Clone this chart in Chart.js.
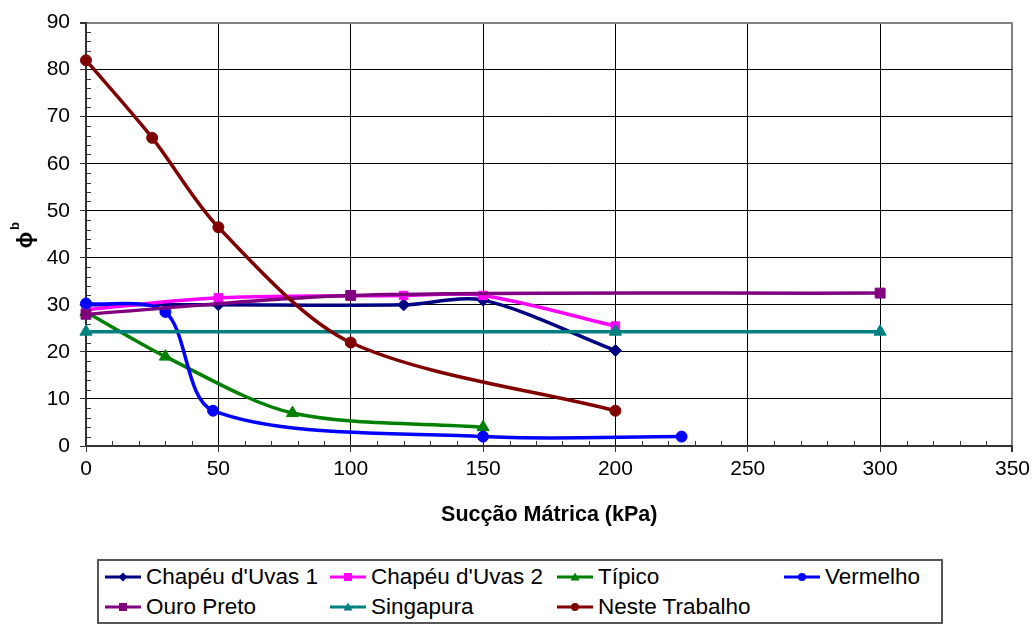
<!DOCTYPE html>
<html>
<head>
<meta charset="utf-8">
<script src="https://cdn.jsdelivr.net/npm/chart.js@4"></script>
<style>
  body { margin: 0; background: #fff; }
  .wrap { position: relative; width: 1035px; height: 628px; }
  #legend {
    position: absolute; left: 97px; top: 559px; width: 846px; height: 65px;
    box-sizing: border-box; border: 2px solid #555; background: #fff;
    font-family: "Liberation Sans", Arial, sans-serif; font-size: 22.5px; color: #000;
  }
  .item { position: absolute; display: flex; align-items: center; height: 26px; white-space: nowrap; }
  .item svg { margin-right: 5px; }
</style>
</head>
<body>
<div class="wrap">
  <canvas id="myChart" width="1035" height="628"></canvas>
  <div id="legend"></div>
</div>
<script>
// axis ranges
const xMin = 0, xMax = 350, xStep = 50;
const yMin = 0, yMax = 90, yStep = 10;

const seriesNames = ["Chapéu d'Uvas 1", "Chapéu d'Uvas 2", "Típico", "Vermelho", "Ouro Preto", "Singapura", "Neste Trabalho"];

// values
const chapeu1X = [0, 50, 120, 150, 200];
const chapeu1Y = [30, 30, 30, 31, 20.3];
const chapeu2X = [0, 50, 120, 150, 200];
const chapeu2Y = [29, 31.5, 32, 32, 25.5];
const tipicoX = [0, 30, 78, 150];
const tipicoY = [28.5, 19, 7, 4];
const vermelhoX = [0, 30, 48, 150, 225];
const vermelhoY = [30.3, 28.5, 7.5, 2, 2];
const ouroPretoX = [0, 100, 300];
const ouroPretoY = [28, 32, 32.5];
const singapuraX = [0, 200, 300];
const singapuraY = [24.3, 24.3, 24.3];
const nesteX = [0, 25, 50, 100, 200];
const nesteY = [82, 65.5, 46.5, 22, 7.5];

const allX = [chapeu1X, chapeu2X, tipicoX, vermelhoX, ouroPretoX, singapuraX, nesteX];
const allY = [chapeu1Y, chapeu2Y, tipicoY, vermelhoY, ouroPretoY, singapuraY, nesteY];

const colors = ["#000080", "#FF00FF", "#008000", "#0000FF", "#800080", "#008080", "#800000"];
const markers = ["rectRot", "rect", "triangle", "circle", "rect", "triangle", "circle"];
const markerSizes = [6, 6, 7, 5.5, 7, 7, 5.5];

const fontFamily = '"Liberation Sans", Arial, sans-serif';

function toPoints(xs, ys) {
  return xs.map((x, i) => ({ x: x, y: ys[i] }));
}

const datasets = seriesNames.map((name, i) => ({
  label: name,
  data: toPoints(allX[i], allY[i]),
  borderColor: colors[i],
  backgroundColor: colors[i],
  borderWidth: 3.5,
  pointStyle: markers[i],
  pointRadius: markerSizes[i],
  pointBorderWidth: 1,
  pointBackgroundColor: colors[i],
  pointBorderColor: colors[i],
  tension: 0.3,
  clip: false,
  order: seriesNames.length - i,
}));

// small ticks between the labelled ones
const minorTicks = {
  id: "minorTicks",
  beforeDatasetsDraw(chart) {
    const { ctx, chartArea, scales: { x, y } } = chart;
    ctx.save();
    ctx.strokeStyle = "#333";
    ctx.lineWidth = 1;
    ctx.beginPath();
    for (let v = xMin; v <= xMax; v += 10) {
      if (v % xStep === 0) continue;
      const px = Math.round(x.getPixelForValue(v)) + 0.5;
      ctx.moveTo(px, chartArea.bottom);
      ctx.lineTo(px, chartArea.bottom - 5);
    }
    for (let v = yMin; v <= yMax; v += 2) {
      if (v % yStep === 0) continue;
      const py = Math.round(y.getPixelForValue(v)) + 0.5;
      ctx.moveTo(chartArea.left, py);
      ctx.lineTo(chartArea.left + 5, py);
    }
    ctx.stroke();
    ctx.restore();
  },
};

// phi with superscript b as the y title
const yTitle = {
  id: "yTitle",
  afterDraw(chart) {
    const ctx = chart.ctx;
    ctx.save();
    ctx.translate(26, 240);
    ctx.rotate(-Math.PI / 2);
    ctx.fillStyle = "#000";
    ctx.textAlign = "center";
    ctx.textBaseline = "middle";
    ctx.font = "bold 22px " + fontFamily;
    ctx.fillText("ϕ", 0, 0);
    ctx.font = "bold 13px " + fontFamily;
    ctx.fillText("b", 14, -11);
    ctx.restore();
  },
};

const isLast = (c, max) => c.tick && c.tick.value === max;

const ctx = document.getElementById("myChart").getContext("2d");
const myChart = new Chart(ctx, {
  type: "line",
  data: { datasets: datasets },
  options: {
    responsive: false,
    animation: false,
    devicePixelRatio: 1,
    layout: { padding: { top: 15, right: 22, bottom: 88, left: 0 } },
    plugins: {
      legend: { display: false },
      tooltip: { enabled: false },
    },
    scales: {
      x: {
        type: "linear",
        min: xMin,
        max: xMax,
        ticks: { stepSize: xStep, color: "#000", padding: 5, font: { family: fontFamily, size: 21 } },
        grid: {
          color: (c) => (isLast(c, xMax) ? "#808080" : "#000"),
          lineWidth: (c) => (isLast(c, xMax) ? 2 : 1),
          tickLength: 6,
          tickColor: "#333",
        },
        border: { color: "#333", width: 2 },
        title: {
          display: true,
          text: "Sucção Mátrica (kPa)",
          color: "#000",
          font: { family: fontFamily, size: 21.5, weight: "bold" },
          padding: { top: 4, bottom: 12 },
        },
        afterFit: (s) => { s.height = 94; },
      },
      y: {
        type: "linear",
        min: yMin,
        max: yMax,
        ticks: { stepSize: yStep, color: "#000", padding: 10, font: { family: fontFamily, size: 21 } },
        grid: {
          color: (c) => (isLast(c, yMax) ? "#808080" : "#000"),
          lineWidth: (c) => (isLast(c, yMax) ? 2 : 1),
          tickLength: 6,
          tickColor: "#333",
        },
        border: { color: "#333", width: 2 },
        afterFit: (s) => { s.width = 86; },
      },
    },
  },
  plugins: [minorTicks, yTitle],
});

// legend: line with marker, 4 columns
function markerSvg(style, color) {
  let m = "";
  if (style === "rectRot") m = `<polygon points="18,2.5 22.5,7 18,11.5 13.5,7" fill="${color}"/>`;
  else if (style === "rect") m = `<rect x="14" y="3" width="8" height="8" fill="${color}"/>`;
  else if (style === "triangle") m = `<polygon points="18,2.5 22.5,10.5 13.5,10.5" fill="${color}"/>`;
  else m = `<circle cx="18" cy="7" r="4" fill="${color}"/>`;
  return `<svg width="36" height="14"><line x1="0" y1="7" x2="36" y2="7" stroke="${color}" stroke-width="3"/>${m}</svg>`;
}

const legendCols = [6, 231, 458, 685];
const legendRows = [3, 33];
const legendEl = document.getElementById("legend");
seriesNames.forEach((name, i) => {
  const div = document.createElement("div");
  div.className = "item";
  div.style.left = legendCols[i % 4] + "px";
  div.style.top = legendRows[Math.floor(i / 4)] + "px";
  div.innerHTML = markerSvg(markers[i], colors[i]) + "<span></span>";
  div.querySelector("span").textContent = name;
  legendEl.appendChild(div);
});
</script>
</body>
</html>
